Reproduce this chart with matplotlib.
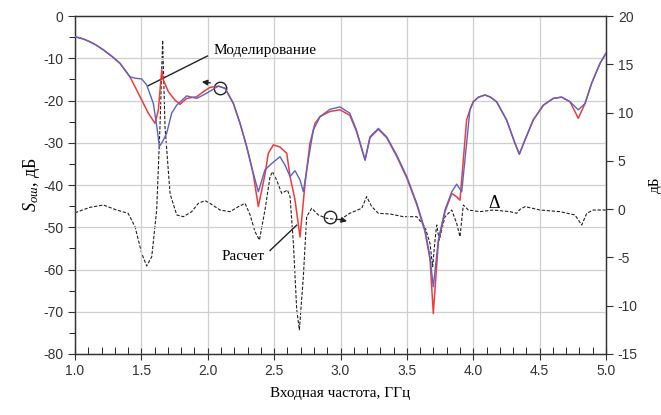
import matplotlib
matplotlib.use("Agg")
import matplotlib.pyplot as plt
from matplotlib.ticker import MultipleLocator

plt.rcParams['font.family'] = ['Liberation Sans', 'DejaVu Sans']
plt.rcParams['axes.unicode_minus'] = False
plt.rcParams['mathtext.fontset'] = 'custom'
plt.rcParams['mathtext.rm'] = 'Liberation Serif'
plt.rcParams['mathtext.it'] = 'Liberation Serif:italic'

# calculation (red)
f_calc = [1.0, 1.06, 1.113, 1.16, 1.213, 1.28, 1.339, 1.414, 1.49, 1.552, 1.603, 1.628, 1.653,
          1.665, 1.703, 1.753, 1.791, 1.841, 1.917, 1.967, 2.017, 2.08, 2.13, 2.193, 2.243,
          2.293, 2.343, 2.381, 2.431, 2.456, 2.494, 2.544, 2.595, 2.62, 2.657, 2.695, 2.733,
          2.77, 2.808, 2.846, 2.92, 2.996, 3.07, 3.12, 3.185, 3.222, 3.285, 3.348, 3.423,
          3.499, 3.574, 3.636, 3.674, 3.699, 3.737, 3.787, 3.838, 3.875, 3.9, 3.925, 3.95,
          3.975, 4.0, 4.04, 4.088, 4.13, 4.176, 4.251, 4.314, 4.347, 4.39, 4.452, 4.528,
          4.603, 4.666, 4.729, 4.791, 4.842, 4.892, 4.955, 5.0]
s_calc = [-4.9, -5.4, -6.1, -6.9, -8.0, -9.6, -11.2, -14.4, -19.1, -23.0, -25.4, -22.2, -12.8,
          -15.1, -17.9, -19.9, -20.9, -19.5, -19.1, -17.9, -16.9, -16.6, -17.1, -20.7, -25.4,
          -30.9, -37.5, -45.1, -37.5, -32.5, -30.5, -31.0, -32.5, -38.0, -43.5, -52.3, -39.6,
          -30.1, -25.4, -23.8, -22.6, -22.2, -23.5, -27.3, -34.1, -28.8, -26.8, -28.8, -33.2,
          -38.3, -44.6, -51.0, -57.5, -70.4, -53.5, -46.3, -42.0, -42.8, -43.6, -34.1, -24.6,
          -22.2, -20.3, -19.2, -18.7, -19.2, -20.3, -24.6, -30.1, -32.7, -29.3, -24.6, -21.1,
          -19.5, -19.2, -20.3, -24.2, -20.7, -15.9, -11.2, -8.8]

# simulation (blue)
f_sim = [1.0, 1.06, 1.113, 1.16, 1.213, 1.28, 1.339, 1.414, 1.452, 1.502, 1.54, 1.59, 1.62,
         1.635, 1.66, 1.69, 1.728, 1.766, 1.841, 1.917, 1.99, 2.08, 2.13, 2.193, 2.243, 2.293,
         2.343, 2.381, 2.431, 2.482, 2.544, 2.582, 2.62, 2.657, 2.695, 2.72, 2.757, 2.795,
         2.846, 2.92, 2.996, 3.07, 3.12, 3.185, 3.222, 3.285, 3.348, 3.423, 3.499, 3.574,
         3.636, 3.674, 3.699, 3.737, 3.787, 3.838, 3.875, 3.913, 3.95, 3.975, 4.0, 4.04,
         4.088, 4.13, 4.176, 4.251, 4.314, 4.347, 4.39, 4.452, 4.528, 4.603, 4.666, 4.729,
         4.791, 4.842, 4.892, 4.955, 5.0]
s_sim = [-4.9, -5.4, -6.1, -6.9, -8.0, -9.6, -11.2, -14.4, -14.7, -14.9, -16.3, -20.7, -27.0,
         -30.9, -29.7, -27.8, -23.0, -21.1, -18.9, -19.5, -18.3, -16.6, -17.1, -20.7, -25.4,
         -30.9, -37.2, -41.6, -36.4, -34.9, -33.3, -35.3, -38.0, -36.6, -38.8, -41.6, -34.1,
         -27.0, -23.8, -22.1, -21.5, -23.0, -27.0, -34.1, -28.6, -26.6, -28.6, -32.9, -38.0,
         -44.3, -50.6, -57.0, -64.1, -53.0, -45.9, -41.6, -39.8, -41.6, -30.1, -22.2, -20.3,
         -19.2, -18.7, -19.2, -20.3, -24.6, -30.1, -32.7, -29.3, -24.6, -21.1, -19.5, -19.2,
         -20.3, -22.2, -20.7, -15.9, -11.2, -8.8]

# difference (right axis)
f_delta = [1.0, 1.113, 1.213, 1.314, 1.40, 1.452, 1.502, 1.54, 1.578, 1.615, 1.64, 1.66,
           1.678, 1.716, 1.766, 1.816, 1.879, 1.929, 1.979, 2.017, 2.092, 2.168, 2.231, 2.281,
           2.319, 2.356, 2.389, 2.431, 2.469, 2.489, 2.519, 2.557, 2.6, 2.62, 2.645, 2.67,
           2.69, 2.72, 2.745, 2.783, 2.833, 2.896, 2.996, 3.07, 3.16, 3.197, 3.235, 3.285,
           3.373, 3.473, 3.574, 3.636, 3.674, 3.694, 3.712, 3.725, 3.744, 3.787, 3.838, 3.875,
           3.9, 3.925, 3.963, 4.05, 4.15, 4.277, 4.327, 4.352, 4.39, 4.503, 4.653, 4.766,
           4.817, 4.855, 4.905, 5.0]
delta = [-0.37, 0.19, 0.43, -0.09, -0.43, -1.82, -4.57, -5.89, -4.92, -0.09, 8.54, 17.5,
         8.5, 1.6, -0.6, -0.78, -0.26, 0.6, 0.88, 0.6, -0.09, -0.26, 0.26, 0.6, -0.6, -2.34,
         -3.2, -0.09, 3.36, 3.88, 3.0, 1.64, 1.98, 1.29, -3.54, -10.4, -12.5, -7.0, -0.78,
         0.09, -0.6, -0.95, -1.1, -0.43, 0.09, 1.3, 0.26, -0.43, -0.5, -0.78, -0.78, -1.82,
         -3.54, -5.96, -3.2, -1.64, -3.2, -0.78, -0.09, -1.47, -2.85, 0.43, -0.09, -0.26,
         -0.09, -0.26, -0.43, -0.02, 0.26, -0.09, -0.26, -0.6, -1.64, -0.43, -0.09, -0.09]

serif = 'Liberation Serif'

fig = plt.figure(figsize=(6.61, 4.15), dpi=100)
ax = fig.add_axes([0.1135, 0.147, 0.8033, 0.8144])
ax2 = ax.twinx()

ax.plot(f_calc, s_calc, color='#f03c3c', lw=1.1, zorder=3)
ax.plot(f_sim, s_sim, color='#5a64c8', lw=1.0, zorder=4)
ax2.plot(f_delta, delta, color='#222222', lw=0.8, ls=(0, (3, 1.5)))

ax.set_xlim(1.0, 5.0)
ax.set_ylim(-80, 0)
ax2.set_ylim(-15, 20)

ax.xaxis.set_major_locator(MultipleLocator(0.5))
ax.xaxis.set_minor_locator(MultipleLocator(0.1))
ax.yaxis.set_major_locator(MultipleLocator(10))
ax.yaxis.set_minor_locator(MultipleLocator(5))
ax2.yaxis.set_major_locator(MultipleLocator(5))
ax.xaxis.set_major_formatter(matplotlib.ticker.FormatStrFormatter('%.1f'))

ax.grid(True, which='major', color='#cfcfcf', lw=0.9)
ax.set_axisbelow(True)

ax.tick_params(axis='x', which='major', direction='inout', length=8, labelsize=10, colors='#333333')
ax.tick_params(axis='x', which='minor', direction='in', length=5)
ax.tick_params(axis='y', which='major', direction='out', length=5, labelsize=10, colors='#333333')
ax.tick_params(axis='y', which='minor', direction='out', length=4)
ax2.tick_params(axis='y', direction='out', length=5, labelsize=10, colors='#333333')
for a in (ax, ax2):
    for s in a.spines.values():
        s.set_linewidth(0.9)
        s.set_color('#333333')

ax.set_xlabel('Входная частота, ГГц', family=serif, fontsize=11, labelpad=6)
ax.set_ylabel(r'$S_{ош}$, дБ', family=serif, fontsize=13, labelpad=1)
ax2.set_ylabel('дБ', family=serif, fontsize=11, labelpad=8)

# annotations
ax.text(2.04, -8.05, 'Моделирование', family=serif, fontsize=11, ha='left', va='center')
ax.plot([1.551, 1.997], [-16.5, -9.47], color='#222222', lw=1.0)
ax.plot([2.092], [-17.0], marker='o', ms=9, mfc='none', mec='#222222', mew=1.0)
ax.annotate('', xy=(1.934, -15.5), xytext=(2.04, -15.9),
            arrowprops=dict(arrowstyle='-|>', color='#222222', lw=1.0, mutation_scale=8))

ax.text(2.105, -57.0, 'Расчет', family=serif, fontsize=11, ha='left', va='center')
ax.plot([2.469, 2.67], [-55.5, -49.5], color='#222222', lw=1.0)
ax.plot([2.921], [-47.5], marker='o', ms=9, mfc='none', mec='#222222', mew=1.0)
ax.annotate('', xy=(3.07, -48.7), xytext=(2.966, -48.0),
            arrowprops=dict(arrowstyle='-|>', color='#222222', lw=1.0, mutation_scale=8))

ax.text(4.156, -44.3, 'Δ', family=serif, fontsize=13, ha='center', va='center')

ax.set_zorder(ax2.get_zorder() + 1)
ax.patch.set_visible(False)

plt.savefig('out.png', dpi=100)
